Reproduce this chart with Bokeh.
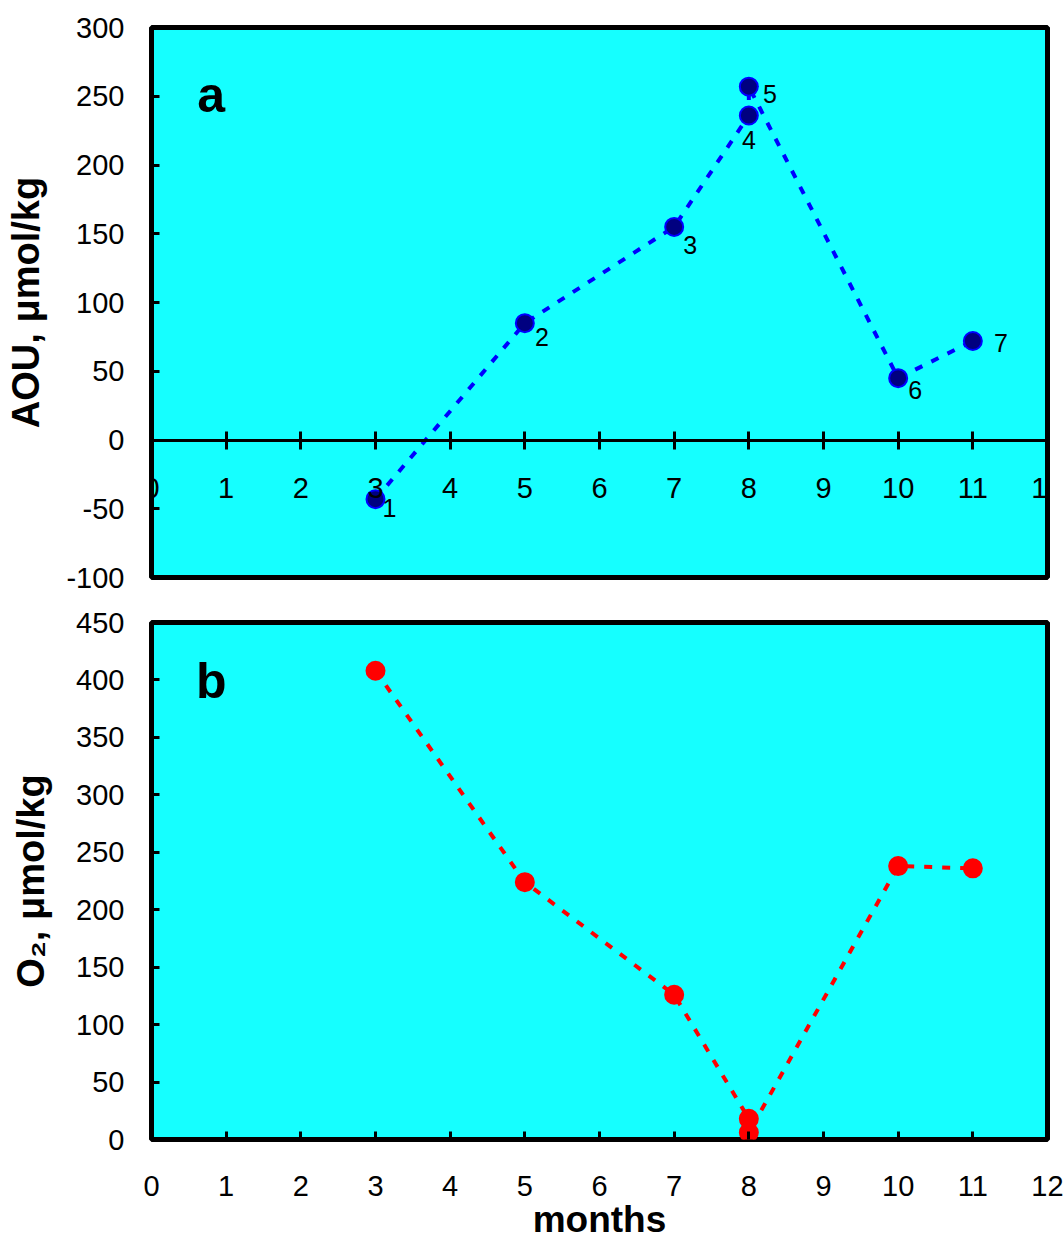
from bokeh.plotting import figure
from bokeh.layouts import column
from bokeh.models import Label, FixedTicker, ColumnDataSource, PrintfTickFormatter
from bokeh.core.properties import value
from bokeh.embed import file_html
from bokeh.resources import INLINE

# ---- data ----
months_a = [3, 5, 7, 8, 8, 10, 11]
aou = [-43, 85, 155, 236, 257, 45, 72]
point_ids = ["1", "2", "3", "4", "5", "6", "7"]
months_b = [3, 5, 7, 8, 8, 10, 11]
o2 = [408, 224, 126, 18, 6, 238, 236]
x_ticks = list(range(0, 13))
y_ticks_a = list(range(-100, 301, 50))
y_ticks_b = list(range(0, 451, 50))

# label offsets (screen px), style only
label_dx = [14, 17, 16, 0, 21, 17, 28]
label_dy = [9, 14, 18, 24, 7, 12, 2]

FONT = "Liberation Sans"
BG = "#15FFFF"


def base_fig(ymin, ymax, fh, top, bottom):
    p = figure(frame_width=896, frame_height=fh, x_range=(0, 12), y_range=(ymin, ymax),
               output_backend="svg", toolbar_location=None,
               min_border_left=151, min_border_right=17,
               min_border_top=top, min_border_bottom=bottom)
    p.background_fill_color = BG
    p.border_fill_color = "white"
    p.outline_line_color = "black"
    p.outline_line_width = 5
    p.grid.grid_line_color = None
    for ax in (p.xaxis, p.yaxis):
        ax.major_label_text_font = FONT
        ax.major_label_text_font_size = "29px"
        ax.major_label_text_color = "black"
        ax.minor_tick_line_color = None
        ax.major_tick_line_color = "black"
        ax.major_tick_line_width = 3
        ax.axis_label_text_font = FONT
        ax.axis_label_text_font_style = "bold"
        ax.axis_label_text_font_size = "38px"
        ax.axis_label_text_color = "black"
        ax.formatter = PrintfTickFormatter(format="%d")
    p.xaxis.ticker = FixedTicker(ticks=x_ticks)
    p.yaxis.axis_line_color = None
    p.yaxis.major_tick_in = 8
    p.yaxis.major_tick_out = 0
    p.yaxis.major_label_standoff = 27
    return p


# ---- panel a ----
pa = base_fig(-100, 300, 550, 27, 23)
pa.yaxis.ticker = FixedTicker(ticks=y_ticks_a)
pa.yaxis.axis_label = "AOU, μmol/kg"
pa.yaxis.axis_label_standoff = 16
pa.xaxis.fixed_location = 0
pa.xaxis.axis_line_color = "black"
pa.xaxis.axis_line_width = 3
pa.xaxis.major_tick_in = 9
pa.xaxis.major_tick_out = 9
pa.xaxis.major_label_standoff = 29

src_a = ColumnDataSource(dict(x=months_a, y=aou, t=point_ids, dx=label_dx, dy=label_dy))
pa.line("x", "y", source=src_a, line_color="#0000FF", line_width=4, line_dash="8 10")
pa.scatter("x", "y", source=src_a, size=18, fill_color="#000080", line_color="#0000FF", line_width=2)
pa.text("x", "y", text="t", source=src_a, x_offset="dx", y_offset="dy",
        text_font=value(FONT), text_font_size="25px", text_align="center",
        text_baseline="middle", text_color="black")
pa.add_layout(Label(x=0.8, y=251, text="a", text_font=FONT, text_font_size="50px",
                    text_font_style="bold", text_align="center", text_baseline="alphabetic",
                    text_color="black"))

# ---- panel b ----
pb = base_fig(0, 450, 517, 22, 102)
pb.yaxis.ticker = FixedTicker(ticks=y_ticks_b)
pb.yaxis.axis_label = "O₂, μmol/kg"
pb.yaxis.axis_label_standoff = 21
pb.xaxis.axis_label = "months"
pb.xaxis.axis_label_text_font_size = "37px"
pb.xaxis.axis_line_color = None
pb.xaxis.major_tick_in = 8
pb.xaxis.major_tick_out = 0
pb.xaxis.major_label_standoff = 36
pb.xaxis.axis_label_standoff = 0

src_b = ColumnDataSource(dict(x=months_b, y=o2))
pb.line("x", "y", source=src_b, line_color="#FF0000", line_width=4, line_dash="8 10")
pb.scatter("x", "y", source=src_b, size=18, fill_color="#FF0000", line_color="#FF0000", line_width=2)
pb.add_layout(Label(x=0.8, y=399, text="b", text_font=FONT, text_font_size="50px",
                    text_font_style="bold", text_align="center", text_baseline="alphabetic",
                    text_color="black"))

layout = column(pa, pb, spacing=0)
open("out.html", "w").write(file_html(layout, INLINE))
